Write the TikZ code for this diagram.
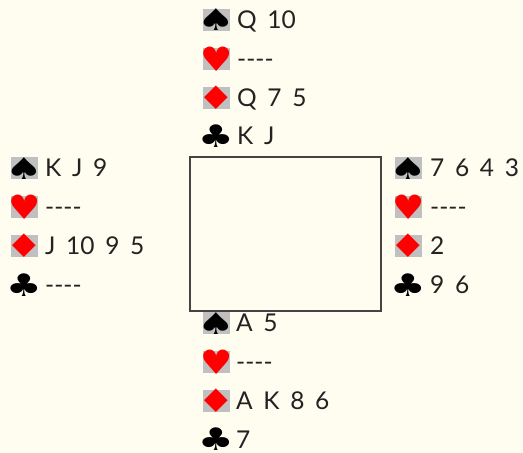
\documentclass[tikz,border=0pt]{standalone}
\usepackage{fontspec}
\setmainfont[WordSpace=1.7, Ligatures=NoCommon]{Lato}
\newfontfamily\suitfont{DejaVu Sans}
\definecolor{bg}{HTML}{FFFDF0}
\definecolor{boxgray}{HTML}{C0C0C0}
\definecolor{suitred}{HTML}{FF0000}
\definecolor{ink}{HTML}{222222}
\definecolor{frame}{HTML}{444444}
\tikzset{
  sbox/.style={minimum width=26.5pt, minimum height=22pt, inner sep=0pt, anchor=west},
  gbox/.style={sbox, fill=boxgray},
  glyph/.style={inner sep=0pt, font=\suitfont\fontsize{24}{24}\selectfont},
  blacksuit/.style={glyph, text=black},
  redsuit/.style={glyph, text=suitred},
  cards/.style={anchor=base west, inner sep=0pt, text=ink, font=\fontsize{24.5}{24.5}\selectfont},
}
\newcommand\spd{\scalebox{1.75}[1.25]{♠}}
\newcommand\hrt{\scalebox{1.5}[1.4]{♥}}
\newcommand\dmd{\scalebox{1.75}[1.35]{♦}}
\newcommand\clb{\scalebox{1.65}[1.3]{♣}}
\newcommand\nil{{-}{-}{-}{-}}
\newcommand\handlines[8]{%
  % #1 name, #2 box x, #3 text x, #4 first centre y, #5-#8 holdings
  \node[gbox] (#1s) at (#2, #4) {};
  \node[blacksuit] (#1sg) at (#1s.center) {\spd};
  \node[cards] (#1st) at (#3, #4+8.5) {#5};
  \node[gbox] (#1h) at (#2, #4+38.8) {};
  \node[redsuit] (#1hg) at (#1h.center) {\hrt};
  \node[cards] (#1ht) at (#3, #4+47.3) {#6};
  \node[gbox] (#1d) at (#2, #4+77.6) {};
  \node[redsuit] (#1dg) at (#1d.center) {\dmd};
  \node[cards] (#1dt) at (#3, #4+86.1) {#7};
  \node[sbox] (#1c) at (#2, #4+116.4) {};
  \node[blacksuit] (#1cg) at (#1c.center) {\clb};
  \node[cards] (#1ct) at (#3, #4+124.9) {#8};
}
\begin{document}
\begin{tikzpicture}[x=1pt, y=-1pt]
  \fill[bg] (0,0) rectangle (523,453);
  \useasboundingbox (0,0) rectangle (523,453);
  \node[draw=frame, line width=1.2pt, fill=bg, minimum width=191pt, minimum height=154pt,
    inner sep=0pt] (table) at (285.5,234) {};
  \handlines{n}{203}{237}{20}{Q 10}{\nil}{Q 7 5}{K J}
  \handlines{w}{11}{45}{168.3}{K J 9}{\nil}{J 10 9 5}{\nil}
  \handlines{e}{395}{430}{168.3}{7 6 4 3}{\nil}{2}{9 6}
  \handlines{s}{203}{236}{323.2}{A 5}{\nil}{A K 8 6}{7}
\end{tikzpicture}
\end{document}
